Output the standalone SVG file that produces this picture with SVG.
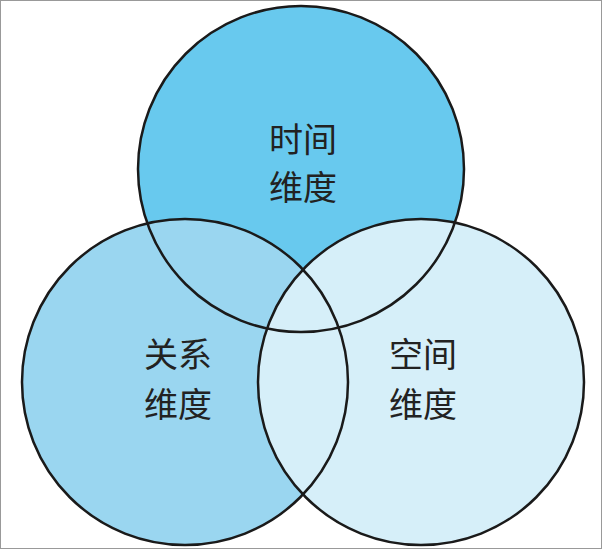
<svg xmlns="http://www.w3.org/2000/svg" width="602" height="549" viewBox="0 0 602 549">
<style>
.c{stroke:#1a1a1a;stroke-width:2.5;fill:none}
.t{font-family:"Noto Sans CJK SC",sans-serif;font-size:34px;fill:#222;text-anchor:middle}
</style>
<rect x="0.5" y="0.5" width="601" height="548" fill="#fff" stroke="#999"/>
<g id="fills">
<circle cx="301" cy="169" r="163" fill="#68c9ee"/>
<circle cx="185" cy="382" r="163" fill="#9ad6f0"/>
<circle cx="421" cy="382" r="163" fill="#d6eff9"/>
</g>
<g id="time"><circle class="c" cx="301" cy="169" r="163"/><text class="t" x="303" y="152">时间</text><text class="t" x="303" y="200">维度</text></g>
<g id="relation"><circle class="c" cx="185" cy="382" r="163"/><text class="t" x="178" y="367">关系</text><text class="t" x="178" y="417">维度</text></g>
<g id="space"><circle class="c" cx="421" cy="382" r="163"/><text class="t" x="423" y="367">空间</text><text class="t" x="423" y="417">维度</text></g>
</svg>
